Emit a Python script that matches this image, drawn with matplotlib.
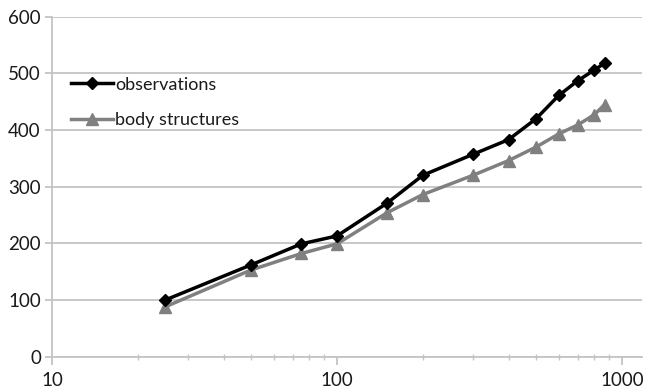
import matplotlib.pyplot as plt
from matplotlib.ticker import FixedLocator, NullFormatter, LogLocator

# sample sizes and number of distinct concepts found
sizes = [25, 50, 75, 100, 150, 200, 300, 400, 500, 600, 700, 800, 870]
observations = [100, 162, 199, 213, 271, 320, 357, 383, 420, 461, 487, 506, 518]
body_structures = [88, 153, 182, 199, 254, 286, 320, 346, 370, 393, 409, 427, 445]

y_ticks = [0, 100, 200, 300, 400, 500, 600]
x_ticks = [10, 100, 1000]
x_tick_labels = ['10', '100', '1000']

plt.rcParams['font.family'] = ['Lato', 'DejaVu Sans']

fig = plt.figure(figsize=(6.46, 3.88), dpi=100)
ax = fig.add_axes([52 / 646, 1 - 356.6 / 388, (642 - 52) / 646, (356.6 - 16.7) / 388])

ax.plot(sizes, observations, color='black', linewidth=2.5, marker='D',
        markersize=6.5, label='observations', zorder=4)
ax.plot(sizes, body_structures, color='#808080', linewidth=2.5, marker='^',
        markersize=9, label='body structures', zorder=3)

ax.set_xscale('log')
ax.set_xlim(10, 1176)
ax.set_ylim(0, 600)

ax.xaxis.set_major_locator(FixedLocator(x_ticks))
ax.set_xticklabels(x_tick_labels)
ax.xaxis.set_minor_locator(LogLocator(base=10, subs=range(2, 10)))
ax.xaxis.set_minor_formatter(NullFormatter())
ax.set_yticks(y_ticks)

grid_col = '#c4c4c4'
ax.grid(axis='y', color=grid_col, linewidth=1.3)
ax.set_axisbelow(True)
for side in ['top', 'right']:
    ax.spines[side].set_visible(False)
for side in ['left', 'bottom']:
    ax.spines[side].set_color(grid_col)
    ax.spines[side].set_linewidth(1.3)

ax.tick_params(axis='y', which='major', length=5, width=1.3, color=grid_col,
               labelsize=13.5, pad=3, labelcolor='#1a1a1a')
ax.tick_params(axis='x', which='major', length=6, width=1.3, color=grid_col,
               labelsize=13.5, pad=5, labelcolor='#1a1a1a')
ax.tick_params(axis='x', which='minor', direction='inout', length=5, width=1,
               color=grid_col)

leg = ax.legend(loc='upper left', bbox_to_anchor=(0.02, 0.845), frameon=False,
                fontsize=13, handlelength=2.3, handletextpad=0.15,
                labelspacing=1.1, numpoints=1, borderaxespad=0)
for t in leg.get_texts():
    t.set_color('#1a1a1a')

fig.savefig('out.png', dpi=100)
